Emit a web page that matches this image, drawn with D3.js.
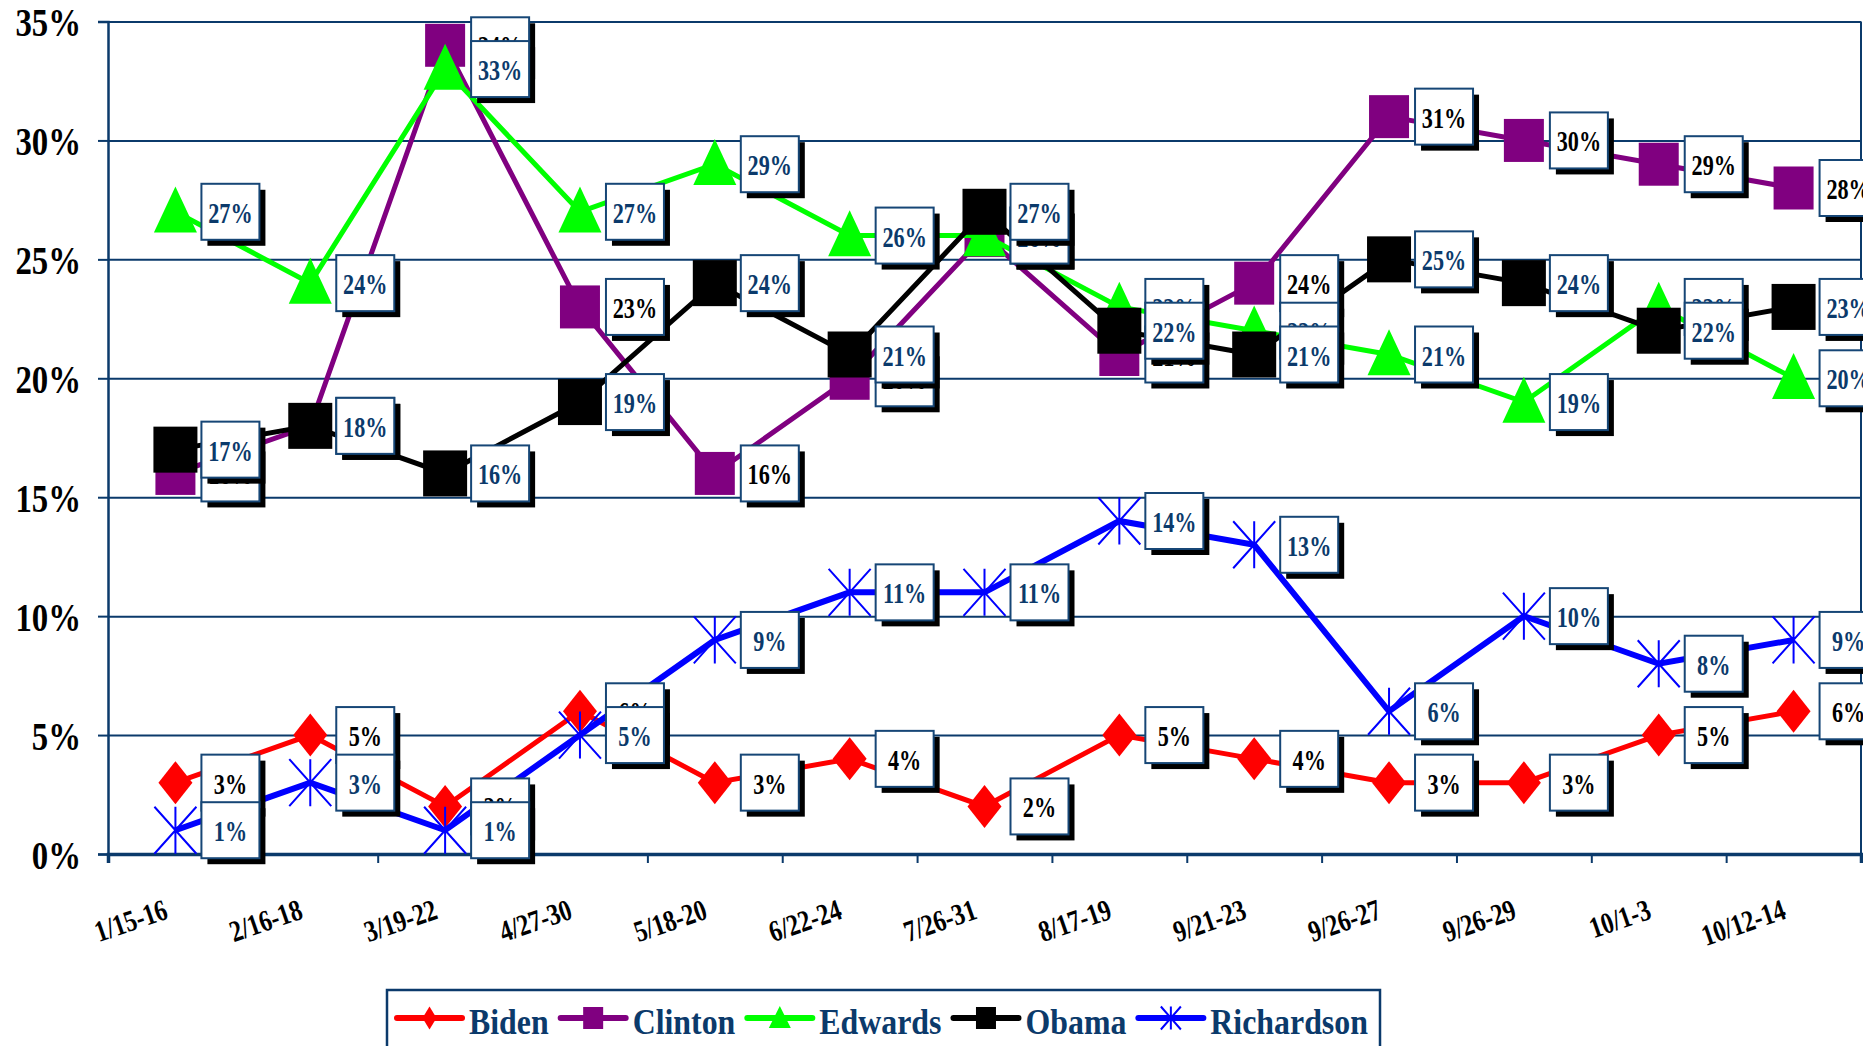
<!DOCTYPE html>
<html><head><meta charset="utf-8">
<script src="https://cdn.jsdelivr.net/npm/d3@7"></script>
<style>
html,body{margin:0;padding:0;background:#fff;overflow:hidden;}
svg{display:block;}
text{font-family:"Liberation Serif","Times New Roman",serif;font-weight:bold;}
</style></head>
<body>
<svg id="chart" width="1863" height="1046"></svg>
<script>
const categories = ["1/15-16","2/16-18","3/19-22","4/27-30","5/18-20","6/22-24","7/26-31","8/17-19","9/21-23","9/26-27","9/26-29","10/1-3","10/12-14"];
const seriesNames = ["Biden","Clinton","Edwards","Obama","Richardson"];
const biden      = [3,5,2,6,3,4,2,5,4,3,3,5,6];
const clinton    = [16,18,34,23,16,20,26,21,24,31,30,29,28];
const edwards    = [27,24,33,27,29,26,26,23,22,21,19,23,20];
const obama      = [17,18,16,19,24,21,27,22,21,25,24,22,23];
const richardson = [1,3,1,5,9,11,11,14,13,6,10,8,9];
const yTicks = [0,5,10,15,20,25,30,35];

(function () {
const seriesValues = [biden, clinton, edwards, obama, richardson];
const colors = ["#ff0000","#800080","#00ff00","#000000","#0000ff"];
const labelColors = ["#000000","#000000","#0b3a6b","#0b3a6b","#0b3a6b"];
const markers = ["diamond","squareC","triangle","squareO","asterisk"];

const NAVY = "#0b3a6b";
const pL = 108, pR = 1861, pT = 21.5, pB = 854;

const svg = d3.select("#chart");
const x = d3.scaleBand().domain(categories).range([pL, pR]);
const xb = d3.scaleLinear().domain([0, categories.length]).range([pL, pR]);
const y = d3.scaleLinear().domain([0, 35]).range([pB, pT]);
const cx = c => x(c) + x.bandwidth() / 2;

// gridlines
const grid = svg.append("g").attr("transform", `translate(${pL},0)`)
  .call(d3.axisLeft(y).tickValues(yTicks).tickSize(-(pR - pL)).tickFormat(""));
grid.select(".domain").remove();
grid.selectAll("line").attr("stroke", NAVY).attr("stroke-width", 2);

// right border
svg.append("line").attr("x1", pR).attr("x2", pR).attr("y1", pT).attr("y2", pB)
  .attr("stroke", NAVY).attr("stroke-width", 2);

// y axis
const yAxis = svg.append("g").attr("transform", `translate(${pL},0)`)
  .call(d3.axisLeft(y).tickValues(yTicks).tickSize(10).tickFormat(d => d + "%"));
yAxis.select(".domain").attr("stroke", NAVY).attr("stroke-width", 2.5);
yAxis.selectAll(".tick line").attr("stroke", NAVY).attr("stroke-width", 2);
yAxis.selectAll(".tick text").remove();
yAxis.selectAll(".tick").append("text")
  .attr("transform", "translate(-27,0) scale(0.8,1)")
  .attr("text-anchor", "end").attr("dy", "0.35em")
  .attr("fill", "#000").style("font-size", "41px")
  .text(d => d + "%");

// x axis ticks (category boundaries)
const xAxis = svg.append("g").attr("transform", `translate(0,${pB})`)
  .call(d3.axisBottom(xb).tickValues(d3.range(categories.length + 1)).tickSize(9).tickFormat(""));
xAxis.select(".domain").attr("stroke", NAVY).attr("stroke-width", 3.5);
xAxis.selectAll(".tick line").attr("stroke", NAVY).attr("stroke-width", 2);

// x labels
svg.append("g").selectAll("text").data(categories).join("text")
  .attr("transform", d => `translate(${cx(d) - 6},918) rotate(-19) scale(0.8,1)`)
  .attr("text-anchor", "end").attr("fill", "#000").style("font-size", "30px")
  .text(d => d);

function drawMarker(g, type, color) {
  if (type === "diamond") {
    const w = 17, h = 21.5;
    g.append("path").attr("d", `M0,${-h}L${w},0L0,${h}L${-w},0Z`).attr("fill", color);
  } else if (type === "squareC") {
    const w = 20, h = 21.5;
    g.append("rect").attr("x", -w).attr("y", -h).attr("width", 2 * w).attr("height", 2 * h).attr("fill", color);
  } else if (type === "squareO") {
    const w = 22, h = 23;
    g.append("rect").attr("x", -w).attr("y", -h).attr("width", 2 * w).attr("height", 2 * h).attr("fill", color);
  } else if (type === "triangle") {
    const w = 21.5, h = 46;
    g.append("path").attr("d", `M0,${-h * 0.55}L${w},${h * 0.45}L${-w},${h * 0.45}Z`).attr("fill", color);
  } else if (type === "asterisk") {
    const w = 21, h = 23.5;
    g.append("path").attr("d", `M0,${-h}L0,${h}M${-w},${-h}L${w},${h}M${-w},${h}L${w},${-h}`)
      .attr("stroke", color).attr("stroke-width", 2).attr("fill", "none");
  }
}

// lines + markers
const line = d3.line().x((d, i) => cx(categories[i])).y(d => y(d));
seriesValues.forEach((vals, si) => {
  const g = svg.append("g");
  g.append("path").datum(vals).attr("d", line).attr("fill", "none")
    .attr("stroke", colors[si]).attr("stroke-width", si === 4 ? 6 : 5).attr("stroke-linejoin", "miter");
  g.selectAll("g.m").data(vals).join("g").attr("class", "m")
    .attr("transform", (d, i) => `translate(${cx(categories[i])},${y(d)})`)
    .each(function () { drawMarker(d3.select(this), markers[si], colors[si]); });
});

// data labels
seriesValues.forEach((vals, si) => {
  const g = svg.append("g");
  const lab = g.selectAll("g.l").data(vals).join("g").attr("class", "l")
    .attr("transform", (d, i) => `translate(${cx(categories[i]) + 26},${y(d) - 28})`);
  lab.append("rect").attr("x", 6).attr("y", 6).attr("width", 58).attr("height", 56).attr("fill", "#000");
  lab.append("rect").attr("x", 0).attr("y", 0).attr("width", 58).attr("height", 56)
    .attr("fill", "#fff").attr("stroke", "#164676").attr("stroke-width", 2);
  lab.append("text").attr("transform", "translate(29,39) scale(0.74,1)")
    .attr("text-anchor", "middle").attr("fill", labelColors[si]).style("font-size", "30px")
    .text(d => d + "%");
});

// legend
const lg = svg.append("g");
lg.append("rect").attr("x", 387).attr("y", 990).attr("width", 993).attr("height", 90)
  .attr("fill", "#fff").attr("stroke", NAVY).attr("stroke-width", 2.5);
let lx = 397;
seriesNames.forEach((name, si) => {
  const e = lg.append("g");
  e.append("line").attr("x1", lx).attr("x2", lx + 65).attr("y1", 1018).attr("y2", 1018)
    .attr("stroke", colors[si]).attr("stroke-width", 6).attr("stroke-linecap", "round");
  const mg = e.append("g").attr("transform", `translate(${lx + 32.5},1018)`);
  if (markers[si] === "diamond") {
    mg.append("path").attr("d", "M0,-11.5L7,0L0,11.5L-7,0Z").attr("fill", colors[si]);
  } else if (markers[si] === "triangle") {
    mg.append("path").attr("d", "M0,-12L11,10L-11,10Z").attr("fill", colors[si]);
  } else if (markers[si] === "asterisk") {
    mg.append("path").attr("d", "M0,-11.5L0,11.5M-10,-11.5L10,11.5M-10,11.5L10,-11.5")
      .attr("stroke", colors[si]).attr("stroke-width", 2);
  } else {
    mg.append("rect").attr("x", -10).attr("y", -11).attr("width", 20).attr("height", 22).attr("fill", colors[si]);
  }
  const t = e.append("text").attr("transform", `translate(${lx + 72},1034) scale(0.885,1)`)
    .attr("fill", NAVY).style("font-size", "36px").text(name);
  const w = t.node().getComputedTextLength() * 0.885;
  lx = lx + 72 + w + 12;
});
})();
</script>
</body></html>
